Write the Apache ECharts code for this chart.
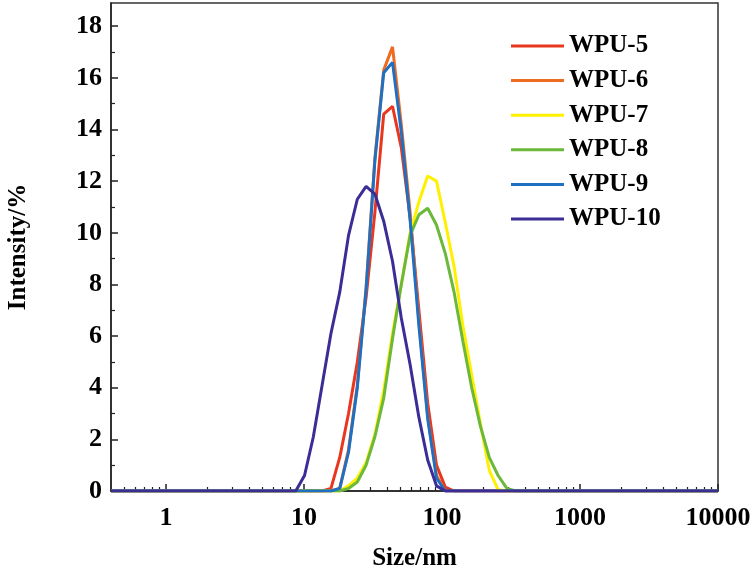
<!DOCTYPE html>
<html>
<head>
<meta charset="utf-8">
<script src="https://cdn.jsdelivr.net/npm/echarts@6/dist/echarts.min.js"></script>
<style>html,body{margin:0;padding:0;background:#fff}#c{width:750px;height:577px}</style>
</head>
<body>
<div id="c"></div>
<script>
// Size bins (nm)
var sizes = [0.4, 0.4632, 0.5365, 0.6213, 0.7195, 0.8332, 0.9649, 1.117, 1.294, 1.499,
  1.736, 2.01, 2.328, 2.696, 3.122, 3.615, 4.187, 4.849, 5.615, 6.503,
  7.531, 8.721, 10.1, 11.7, 13.54, 15.69, 18.17, 21.04, 24.36, 28.21,
  32.67, 37.84, 43.82, 50.75, 58.77, 68.06, 78.82, 91.28, 105.7, 122.4,
  141.8, 164.2, 190.1, 220.2, 255.0, 295.3, 342.0, 396.1, 458.7, 531.2,
  615.1, 712.4, 825.0, 955.4, 1106, 1281, 1484, 1718, 1990, 2305,
  2669, 3091, 3580, 4145, 4801, 5560, 6439, 7456, 8635, 10000];

var seriesNames = ['WPU-5', 'WPU-6', 'WPU-7', 'WPU-8', 'WPU-9', 'WPU-10'];
var seriesColors = ['#E8361F', '#EE6B1F', '#FFF000', '#6BB83A', '#1F6FC2', '#3A2D96'];

var wpu5 = [0,0,0,0,0,0,0,0,0,0, 0,0,0,0,0,0,0,0,0,0, 0,0,0,0,0,0.1,1.3,3.0,5.0,7.5,
  10.8,14.6,14.9,13.3,10.6,7.0,3.4,1.0,0.15,0, 0,0,0,0,0,0,0,0,0,0, 0,0,0,0,0,0,0,0,0,0, 0,0,0,0,0,0,0,0,0,0];
var wpu6 = [0,0,0,0,0,0,0,0,0,0, 0,0,0,0,0,0,0,0,0,0, 0,0,0,0,0,0,0.1,1.6,4.1,7.9,
  12.9,16.3,17.2,14.2,10.8,6.6,2.9,0.6,0,0, 0,0,0,0,0,0,0,0,0,0, 0,0,0,0,0,0,0,0,0,0, 0,0,0,0,0,0,0,0,0,0];
var wpu7 = [0,0,0,0,0,0,0,0,0,0, 0,0,0,0,0,0,0,0,0,0, 0,0,0,0,0,0,0,0.2,0.5,1.1,
  2.2,3.9,6.1,8.0,10.0,11.2,12.2,12.0,10.4,8.7, 6.4,4.5,2.6,0.8,0.05,0,0,0,0,0, 0,0,0,0,0,0,0,0,0,0, 0,0,0,0,0,0,0,0,0,0];
var wpu8 = [0,0,0,0,0,0,0,0,0,0, 0,0,0,0,0,0,0,0,0,0, 0,0,0,0,0,0,0,0.1,0.35,1.0,
  2.1,3.6,5.9,8.0,9.9,10.7,10.95,10.3,9.2,7.7, 5.8,4.0,2.5,1.3,0.6,0.1,0,0,0,0, 0,0,0,0,0,0,0,0,0,0, 0,0,0,0,0,0,0,0,0,0];
var wpu9 = [0,0,0,0,0,0,0,0,0,0, 0,0,0,0,0,0,0,0,0,0, 0,0,0,0,0,0,0.1,1.5,4.0,7.8,
  12.8,16.2,16.6,13.9,10.5,6.4,2.8,0.5,0,0, 0,0,0,0,0,0,0,0,0,0, 0,0,0,0,0,0,0,0,0,0, 0,0,0,0,0,0,0,0,0,0];
var wpu10 = [0,0,0,0,0,0,0,0,0,0, 0,0,0,0,0,0,0,0,0,0, 0,0,0.6,2.1,4.1,6.1,7.7,9.9,11.3,11.8,
  11.5,10.45,8.9,6.7,4.9,2.85,1.2,0.2,0,0, 0,0,0,0,0,0,0,0,0,0, 0,0,0,0,0,0,0,0,0,0, 0,0,0,0,0,0,0,0,0,0];
var allValues = [wpu5, wpu6, wpu7, wpu8, wpu9, wpu10];

// Axis tick values
var xMajorTicks = [1, 10, 100, 1000, 10000];
var xMinorTicks = [0.5,0.6,0.7,0.8,0.9, 2,3,4,5,6,7,8,9, 20,30,40,50,60,70,80,90,
  200,300,400,500,600,700,800,900, 2000,3000,4000,5000,6000,7000,8000,9000];
var yMajorTicks = [0, 2, 4, 6, 8, 10, 12, 14, 16, 18];
var yMinorTicks = [1, 3, 5, 7, 9, 11, 13, 15, 17];

var FONT = 'Liberation Serif';
var chart = echarts.init(document.getElementById('c'), null, {renderer: 'canvas'});

var series = seriesNames.map(function (name, i) {
  return {
    name: name,
    type: 'line',
    xAxisIndex: 0,
    yAxisIndex: 0,
    symbol: 'none',
    smooth: false,
    lineStyle: {width: 3, color: seriesColors[i]},
    itemStyle: {color: seriesColors[i]},
    data: sizes.map(function (s, k) { return [s, allValues[i][k]]; })
  };
});

var axisLineStyle = {color: '#222', width: 1.5};

chart.setOption({
  animation: false,
  backgroundColor: '#fff',
  grid: {left: 111, right: 32, top: 3, bottom: 86, show: true, borderColor: '#333', borderWidth: 1.5,
    containLabel: false, outerBoundsMode: 'none'},
  legend: {
    orient: 'vertical',
    left: 506,
    top: 28,
    icon: 'rect',
    itemWidth: 53,
    itemHeight: 3,
    itemGap: 8.6,
    data: seriesNames,
    textStyle: {fontFamily: FONT, fontWeight: 'bold', fontSize: 25, color: '#000', lineHeight: 26, padding: [0, 0, 0, 0]}
  },
  xAxis: [{
    type: 'log', logBase: 10, min: 0.4, max: 10000,
    name: 'Size/nm', nameLocation: 'middle', nameGap: 55,
    nameTextStyle: {fontFamily: FONT, fontWeight: 'bold', fontSize: 25, color: '#000'},
    axisLine: {show: true, lineStyle: axisLineStyle},
    axisTick: {show: true, inside: true, length: 7, customValues: xMajorTicks, lineStyle: {color: '#222', width: 1.5}},
    axisLabel: {customValues: xMajorTicks, margin: 14, fontFamily: FONT, fontWeight: 'bold', fontSize: 26, color: '#000',
      hideOverlap: false, formatter: function (v) { return String(Math.round(v)); }},
    splitLine: {show: false}
  }, {
    type: 'log', logBase: 10, min: 0.4, max: 10000, position: 'bottom',
    axisLine: {show: false},
    axisTick: {show: true, inside: true, length: 4, customValues: xMinorTicks, lineStyle: {color: '#222', width: 1.2}},
    axisLabel: {show: false},
    splitLine: {show: false}
  }],
  yAxis: [{
    type: 'value', min: 0, max: 18.9, interval: 2,
    name: 'Intensity/%', nameLocation: 'middle', nameGap: 80, nameRotate: 90,
    nameTextStyle: {fontFamily: FONT, fontWeight: 'bold', fontSize: 25, color: '#000'},
    axisLine: {show: true, lineStyle: axisLineStyle},
    axisTick: {show: true, inside: true, length: 7, customValues: yMajorTicks, lineStyle: {color: '#222', width: 1.5}},
    axisLabel: {customValues: yMajorTicks, margin: 9, fontFamily: FONT, fontWeight: 'bold', fontSize: 26, color: '#000'},
    splitLine: {show: false}
  }, {
    type: 'value', min: 0, max: 18.9, position: 'left',
    axisLine: {show: false},
    axisTick: {show: true, inside: true, length: 4, customValues: yMinorTicks, lineStyle: {color: '#222', width: 1.2}},
    axisLabel: {show: false},
    splitLine: {show: false}
  }],
  series: series
});
</script>
</body>
</html>
